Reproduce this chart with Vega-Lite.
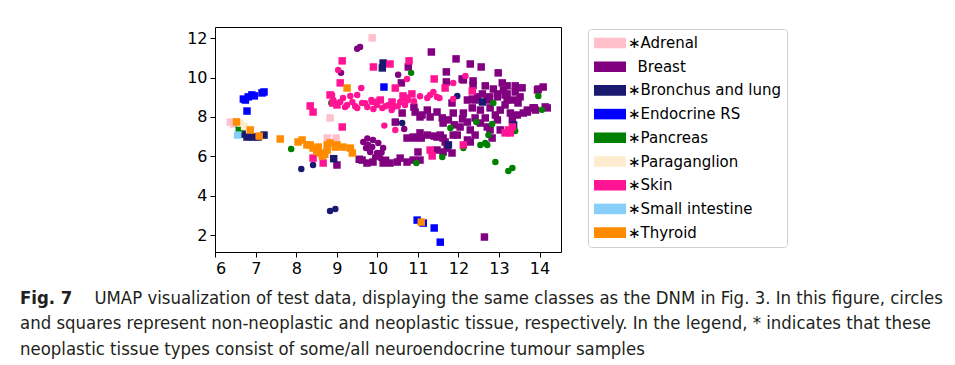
{
  "$schema": "https://vega.github.io/schema/vega-lite/v6.json",
  "autosize": "none",
  "width": 346,
  "height": 225,
  "padding": {"left": 215, "top": 27, "right": 394, "bottom": 113},
  "background": "#ffffff",
  "config": {
    "view": {"stroke": "#000000", "strokeWidth": 1},
    "axis": {"domain": false, "grid": false, "tickColor": "#000000", "tickSize": 5, "tickWidth": 1, "labelFont": "DejaVu Sans", "labelFontSize": 16, "labelColor": "#000000", "labelPadding": 3, "title": null}
  },
  "title": {
    "text": "Fig. 7",
    "subtitle": [
      "\u200b\u2003\u2003\u2003\u2003\u2002UMAP visualization of test data, displaying the same classes as the DNM in Fig. 3. In this figure, circles",
      "and squares represent non-neoplastic and neoplastic tissue, respectively. In the legend, * indicates that these",
      "neoplastic tissue types consist of some/all neuroendocrine tumour samples"
    ],
    "orient": "bottom",
    "anchor": "start",
    "frame": "group",
    "dx": -195,
    "offset": 13,
    "font": "DejaVu Sans Condensed",
    "fontSize": 18.4,
    "fontWeight": "bold",
    "color": "#231f20",
    "lineHeight": 25.5,
    "subtitleFont": "DejaVu Sans Condensed",
    "subtitleFontSize": 18.4,
    "subtitleFontWeight": "normal",
    "subtitleColor": "#231f20",
    "subtitleLineHeight": 25.5,
    "subtitlePadding": -18.9
  },
  "data": {"values": [
    {"cls": "Adrenal", "kind": "neoplastic", "x": 9.87, "y": 12.02},
    {"cls": "Adrenal", "kind": "neoplastic", "x": 6.37, "y": 7.74},
    {"cls": "Adrenal", "kind": "neoplastic", "x": 6.46, "y": 7.64},
    {"cls": "Adrenal", "kind": "neoplastic", "x": 8.83, "y": 7.95},
    {"cls": "Adrenal", "kind": "neoplastic", "x": 8.76, "y": 6.93},
    {"cls": "Adrenal", "kind": "neoplastic", "x": 8.98, "y": 6.93},

    {"cls": "Breast", "kind": "non-neoplastic", "x": 9.50, "y": 11.46},
    {"cls": "Breast", "kind": "non-neoplastic", "x": 9.57, "y": 11.56},
    {"cls": "Breast", "kind": "non-neoplastic", "x": 9.10, "y": 10.24},
    {"cls": "Breast", "kind": "non-neoplastic", "x": 10.51, "y": 10.14},
    {"cls": "Breast", "kind": "non-neoplastic", "x": 10.66, "y": 7.39},
    {"cls": "Breast", "kind": "non-neoplastic", "x": 9.65, "y": 6.73},
    {"cls": "Breast", "kind": "non-neoplastic", "x": 9.77, "y": 6.58},
    {"cls": "Breast", "kind": "non-neoplastic", "x": 9.89, "y": 6.83},
    {"cls": "Breast", "kind": "non-neoplastic", "x": 10.02, "y": 6.68},
    {"cls": "Breast", "kind": "non-neoplastic", "x": 10.14, "y": 6.42},
    {"cls": "Breast", "kind": "non-neoplastic", "x": 9.82, "y": 6.22},
    {"cls": "Breast", "kind": "non-neoplastic", "x": 9.99, "y": 6.17},
    {"cls": "Breast", "kind": "non-neoplastic", "x": 10.07, "y": 5.91},
    {"cls": "Breast", "kind": "non-neoplastic", "x": 9.72, "y": 6.42},
    {"cls": "Breast", "kind": "non-neoplastic", "x": 9.87, "y": 6.47},
    {"cls": "Breast", "kind": "non-neoplastic", "x": 9.94, "y": 5.97},
    {"cls": "Breast", "kind": "non-neoplastic", "x": 9.75, "y": 6.90},
    {"cls": "Breast", "kind": "non-neoplastic", "x": 10.10, "y": 6.20},

    {"cls": "Breast", "kind": "neoplastic", "x": 11.33, "y": 11.30},
    {"cls": "Breast", "kind": "neoplastic", "x": 11.94, "y": 10.95},
    {"cls": "Breast", "kind": "neoplastic", "x": 12.29, "y": 10.69},
    {"cls": "Breast", "kind": "neoplastic", "x": 12.56, "y": 10.54},
    {"cls": "Breast", "kind": "neoplastic", "x": 11.70, "y": 10.29},
    {"cls": "Breast", "kind": "neoplastic", "x": 10.76, "y": 10.54},
    {"cls": "Breast", "kind": "neoplastic", "x": 10.59, "y": 9.73},
    {"cls": "Breast", "kind": "neoplastic", "x": 11.70, "y": 9.78},
    {"cls": "Breast", "kind": "neoplastic", "x": 12.12, "y": 9.88},
    {"cls": "Breast", "kind": "neoplastic", "x": 12.36, "y": 9.83},
    {"cls": "Breast", "kind": "neoplastic", "x": 12.98, "y": 10.24},
    {"cls": "Breast", "kind": "neoplastic", "x": 12.36, "y": 9.60},
    {"cls": "Breast", "kind": "neoplastic", "x": 12.66, "y": 9.58},
    {"cls": "Breast", "kind": "neoplastic", "x": 12.86, "y": 9.42},
    {"cls": "Breast", "kind": "neoplastic", "x": 13.08, "y": 9.73},
    {"cls": "Breast", "kind": "neoplastic", "x": 13.20, "y": 9.58},
    {"cls": "Breast", "kind": "neoplastic", "x": 13.40, "y": 9.58},
    {"cls": "Breast", "kind": "neoplastic", "x": 13.57, "y": 9.48},
    {"cls": "Breast", "kind": "neoplastic", "x": 13.97, "y": 9.42},
    {"cls": "Breast", "kind": "neoplastic", "x": 14.09, "y": 9.52},
    {"cls": "Breast", "kind": "neoplastic", "x": 12.59, "y": 9.17},
    {"cls": "Breast", "kind": "neoplastic", "x": 12.76, "y": 9.02},
    {"cls": "Breast", "kind": "neoplastic", "x": 12.96, "y": 9.17},
    {"cls": "Breast", "kind": "neoplastic", "x": 13.20, "y": 9.17},
    {"cls": "Breast", "kind": "neoplastic", "x": 13.40, "y": 9.27},
    {"cls": "Breast", "kind": "neoplastic", "x": 12.34, "y": 8.91},
    {"cls": "Breast", "kind": "neoplastic", "x": 13.11, "y": 9.37},
    {"cls": "Breast", "kind": "neoplastic", "x": 13.20, "y": 8.86},
    {"cls": "Breast", "kind": "neoplastic", "x": 13.35, "y": 8.86},
    {"cls": "Breast", "kind": "neoplastic", "x": 13.47, "y": 8.71},
    {"cls": "Breast", "kind": "neoplastic", "x": 12.41, "y": 8.86},
    {"cls": "Breast", "kind": "neoplastic", "x": 12.34, "y": 8.46},
    {"cls": "Breast", "kind": "neoplastic", "x": 12.54, "y": 8.35},
    {"cls": "Breast", "kind": "neoplastic", "x": 12.78, "y": 8.46},
    {"cls": "Breast", "kind": "neoplastic", "x": 13.03, "y": 8.35},
    {"cls": "Breast", "kind": "neoplastic", "x": 13.28, "y": 8.20},
    {"cls": "Breast", "kind": "neoplastic", "x": 13.45, "y": 8.10},
    {"cls": "Breast", "kind": "neoplastic", "x": 13.60, "y": 8.20},
    {"cls": "Breast", "kind": "neoplastic", "x": 13.70, "y": 8.35},
    {"cls": "Breast", "kind": "neoplastic", "x": 13.84, "y": 8.46},
    {"cls": "Breast", "kind": "neoplastic", "x": 14.14, "y": 8.51},
    {"cls": "Breast", "kind": "neoplastic", "x": 13.90, "y": 8.35},
    {"cls": "Breast", "kind": "neoplastic", "x": 12.12, "y": 8.20},
    {"cls": "Breast", "kind": "neoplastic", "x": 11.87, "y": 8.20},
    {"cls": "Breast", "kind": "neoplastic", "x": 11.75, "y": 7.85},
    {"cls": "Breast", "kind": "neoplastic", "x": 11.60, "y": 7.95},
    {"cls": "Breast", "kind": "neoplastic", "x": 11.30, "y": 8.00},
    {"cls": "Breast", "kind": "neoplastic", "x": 11.10, "y": 8.10},
    {"cls": "Breast", "kind": "neoplastic", "x": 10.93, "y": 8.25},
    {"cls": "Breast", "kind": "neoplastic", "x": 11.23, "y": 8.35},
    {"cls": "Breast", "kind": "neoplastic", "x": 11.47, "y": 8.25},
    {"cls": "Breast", "kind": "neoplastic", "x": 11.84, "y": 8.71},
    {"cls": "Breast", "kind": "neoplastic", "x": 12.96, "y": 7.85},
    {"cls": "Breast", "kind": "neoplastic", "x": 13.03, "y": 7.34},
    {"cls": "Breast", "kind": "neoplastic", "x": 12.71, "y": 7.49},
    {"cls": "Breast", "kind": "neoplastic", "x": 12.29, "y": 7.34},
    {"cls": "Breast", "kind": "neoplastic", "x": 12.04, "y": 7.49},
    {"cls": "Breast", "kind": "neoplastic", "x": 11.62, "y": 7.69},
    {"cls": "Breast", "kind": "neoplastic", "x": 11.97, "y": 7.08},
    {"cls": "Breast", "kind": "neoplastic", "x": 12.22, "y": 6.83},
    {"cls": "Breast", "kind": "neoplastic", "x": 11.67, "y": 6.73},
    {"cls": "Breast", "kind": "neoplastic", "x": 11.47, "y": 6.98},
    {"cls": "Breast", "kind": "neoplastic", "x": 11.23, "y": 7.08},
    {"cls": "Breast", "kind": "neoplastic", "x": 11.05, "y": 7.19},
    {"cls": "Breast", "kind": "neoplastic", "x": 10.88, "y": 6.98},
    {"cls": "Breast", "kind": "neoplastic", "x": 10.73, "y": 6.93},
    {"cls": "Breast", "kind": "neoplastic", "x": 12.83, "y": 6.93},
    {"cls": "Breast", "kind": "neoplastic", "x": 10.44, "y": 7.74},
    {"cls": "Breast", "kind": "neoplastic", "x": 10.61, "y": 8.20},
    {"cls": "Breast", "kind": "neoplastic", "x": 11.05, "y": 8.00},
    {"cls": "Breast", "kind": "neoplastic", "x": 10.91, "y": 6.93},
    {"cls": "Breast", "kind": "neoplastic", "x": 11.08, "y": 6.93},
    {"cls": "Breast", "kind": "neoplastic", "x": 11.40, "y": 7.03},
    {"cls": "Breast", "kind": "neoplastic", "x": 11.55, "y": 7.08},
    {"cls": "Breast", "kind": "neoplastic", "x": 9.62, "y": 5.81},
    {"cls": "Breast", "kind": "neoplastic", "x": 9.74, "y": 5.66},
    {"cls": "Breast", "kind": "neoplastic", "x": 10.14, "y": 5.66},
    {"cls": "Breast", "kind": "neoplastic", "x": 10.31, "y": 5.66},
    {"cls": "Breast", "kind": "neoplastic", "x": 10.49, "y": 5.71},
    {"cls": "Breast", "kind": "neoplastic", "x": 10.56, "y": 5.91},
    {"cls": "Breast", "kind": "neoplastic", "x": 10.73, "y": 5.71},
    {"cls": "Breast", "kind": "neoplastic", "x": 10.88, "y": 5.81},
    {"cls": "Breast", "kind": "neoplastic", "x": 11.05, "y": 5.81},
    {"cls": "Breast", "kind": "neoplastic", "x": 11.00, "y": 6.22},
    {"cls": "Breast", "kind": "neoplastic", "x": 11.47, "y": 6.32},
    {"cls": "Breast", "kind": "neoplastic", "x": 11.72, "y": 6.42},
    {"cls": "Breast", "kind": "neoplastic", "x": 11.62, "y": 6.22},
    {"cls": "Breast", "kind": "neoplastic", "x": 11.84, "y": 6.17},
    {"cls": "Breast", "kind": "neoplastic", "x": 11.62, "y": 6.93},
    {"cls": "Breast", "kind": "neoplastic", "x": 11.87, "y": 7.08},
    {"cls": "Breast", "kind": "neoplastic", "x": 12.29, "y": 6.73},
    {"cls": "Breast", "kind": "neoplastic", "x": 9.00, "y": 5.56},
    {"cls": "Breast", "kind": "neoplastic", "x": 9.55, "y": 5.85},
    {"cls": "Breast", "kind": "neoplastic", "x": 9.89, "y": 5.71},
    {"cls": "Breast", "kind": "neoplastic", "x": 10.20, "y": 5.80},
    {"cls": "Breast", "kind": "neoplastic", "x": 13.95, "y": 9.37},
    {"cls": "Breast", "kind": "neoplastic", "x": 14.19, "y": 8.46},
    {"cls": "Breast", "kind": "neoplastic", "x": 13.87, "y": 8.46},
    {"cls": "Breast", "kind": "neoplastic", "x": 13.70, "y": 8.25},
    {"cls": "Breast", "kind": "neoplastic", "x": 12.64, "y": 1.90},
    {"cls": "Breast", "kind": "neoplastic", "x": 12.22, "y": 8.86},
    {"cls": "Breast", "kind": "neoplastic", "x": 12.47, "y": 9.02},
    {"cls": "Breast", "kind": "neoplastic", "x": 12.71, "y": 8.86},
    {"cls": "Breast", "kind": "neoplastic", "x": 12.96, "y": 9.02},
    {"cls": "Breast", "kind": "neoplastic", "x": 13.15, "y": 8.61},
    {"cls": "Breast", "kind": "neoplastic", "x": 12.91, "y": 8.10},
    {"cls": "Breast", "kind": "neoplastic", "x": 12.66, "y": 7.95},
    {"cls": "Breast", "kind": "neoplastic", "x": 12.41, "y": 7.95},
    {"cls": "Breast", "kind": "neoplastic", "x": 12.22, "y": 7.74},
    {"cls": "Breast", "kind": "neoplastic", "x": 13.33, "y": 7.85},
    {"cls": "Breast", "kind": "neoplastic", "x": 13.15, "y": 9.12},
    {"cls": "Breast", "kind": "neoplastic", "x": 13.52, "y": 9.02},
    {"cls": "Breast", "kind": "neoplastic", "x": 12.54, "y": 7.69},
    {"cls": "Breast", "kind": "neoplastic", "x": 12.78, "y": 7.34},
    {"cls": "Breast", "kind": "neoplastic", "x": 12.41, "y": 7.08},
    {"cls": "Breast", "kind": "neoplastic", "x": 12.09, "y": 9.93},
    {"cls": "Breast", "kind": "neoplastic", "x": 10.90, "y": 8.50},
    {"cls": "Breast", "kind": "neoplastic", "x": 11.90, "y": 7.60},
    {"cls": "Breast", "kind": "neoplastic", "x": 12.10, "y": 7.90},

    {"cls": "Bronchus and lung", "kind": "neoplastic", "x": 6.66, "y": 7.13},
    {"cls": "Bronchus and lung", "kind": "neoplastic", "x": 6.78, "y": 6.98},
    {"cls": "Bronchus and lung", "kind": "neoplastic", "x": 6.93, "y": 6.98},
    {"cls": "Bronchus and lung", "kind": "neoplastic", "x": 7.05, "y": 6.98},
    {"cls": "Bronchus and lung", "kind": "neoplastic", "x": 7.20, "y": 7.08},
    {"cls": "Bronchus and lung", "kind": "neoplastic", "x": 10.12, "y": 10.49},
    {"cls": "Bronchus and lung", "kind": "neoplastic", "x": 10.14, "y": 10.74},
    {"cls": "Bronchus and lung", "kind": "neoplastic", "x": 8.92, "y": 5.88},
    {"cls": "Bronchus and lung", "kind": "neoplastic", "x": 12.59, "y": 8.76},
    {"cls": "Bronchus and lung", "kind": "neoplastic", "x": 11.75, "y": 6.58},
    {"cls": "Bronchus and lung", "kind": "neoplastic", "x": 13.36, "y": 7.59},
    {"cls": "Bronchus and lung", "kind": "non-neoplastic", "x": 10.61, "y": 7.69},
    {"cls": "Bronchus and lung", "kind": "non-neoplastic", "x": 11.97, "y": 9.07},
    {"cls": "Bronchus and lung", "kind": "non-neoplastic", "x": 8.12, "y": 5.36},
    {"cls": "Bronchus and lung", "kind": "non-neoplastic", "x": 8.41, "y": 5.56},
    {"cls": "Bronchus and lung", "kind": "non-neoplastic", "x": 8.83, "y": 3.22},
    {"cls": "Bronchus and lung", "kind": "non-neoplastic", "x": 8.96, "y": 3.32},

    {"cls": "Endocrine RS", "kind": "neoplastic", "x": 6.69, "y": 8.91},
    {"cls": "Endocrine RS", "kind": "neoplastic", "x": 6.74, "y": 8.86},
    {"cls": "Endocrine RS", "kind": "neoplastic", "x": 6.81, "y": 9.02},
    {"cls": "Endocrine RS", "kind": "neoplastic", "x": 6.90, "y": 9.12},
    {"cls": "Endocrine RS", "kind": "neoplastic", "x": 6.96, "y": 9.07},
    {"cls": "Endocrine RS", "kind": "neoplastic", "x": 7.20, "y": 9.27},
    {"cls": "Endocrine RS", "kind": "neoplastic", "x": 7.15, "y": 9.22},
    {"cls": "Endocrine RS", "kind": "neoplastic", "x": 6.78, "y": 8.30},
    {"cls": "Endocrine RS", "kind": "neoplastic", "x": 10.16, "y": 9.52},
    {"cls": "Endocrine RS", "kind": "neoplastic", "x": 10.98, "y": 2.76},
    {"cls": "Endocrine RS", "kind": "neoplastic", "x": 11.13, "y": 2.61},
    {"cls": "Endocrine RS", "kind": "neoplastic", "x": 11.40, "y": 2.36},
    {"cls": "Endocrine RS", "kind": "neoplastic", "x": 11.55, "y": 1.64},

    {"cls": "Pancreas", "kind": "neoplastic", "x": 6.59, "y": 7.39},
    {"cls": "Pancreas", "kind": "non-neoplastic", "x": 7.87, "y": 6.37},
    {"cls": "Pancreas", "kind": "non-neoplastic", "x": 8.86, "y": 8.71},
    {"cls": "Pancreas", "kind": "non-neoplastic", "x": 10.83, "y": 10.24},
    {"cls": "Pancreas", "kind": "non-neoplastic", "x": 13.97, "y": 9.07},
    {"cls": "Pancreas", "kind": "non-neoplastic", "x": 14.06, "y": 8.36},
    {"cls": "Pancreas", "kind": "non-neoplastic", "x": 12.86, "y": 8.71},
    {"cls": "Pancreas", "kind": "non-neoplastic", "x": 12.44, "y": 7.74},
    {"cls": "Pancreas", "kind": "non-neoplastic", "x": 12.83, "y": 7.64},
    {"cls": "Pancreas", "kind": "non-neoplastic", "x": 11.80, "y": 7.44},
    {"cls": "Pancreas", "kind": "non-neoplastic", "x": 12.74, "y": 7.08},
    {"cls": "Pancreas", "kind": "non-neoplastic", "x": 12.54, "y": 6.58},
    {"cls": "Pancreas", "kind": "non-neoplastic", "x": 12.66, "y": 6.68},
    {"cls": "Pancreas", "kind": "non-neoplastic", "x": 12.71, "y": 6.58},
    {"cls": "Pancreas", "kind": "non-neoplastic", "x": 12.12, "y": 6.42},
    {"cls": "Pancreas", "kind": "non-neoplastic", "x": 11.60, "y": 5.97},
    {"cls": "Pancreas", "kind": "non-neoplastic", "x": 12.91, "y": 5.71},
    {"cls": "Pancreas", "kind": "non-neoplastic", "x": 13.23, "y": 5.25},
    {"cls": "Pancreas", "kind": "non-neoplastic", "x": 13.33, "y": 5.41},
    {"cls": "Pancreas", "kind": "non-neoplastic", "x": 10.96, "y": 5.66},
    {"cls": "Pancreas", "kind": "non-neoplastic", "x": 13.40, "y": 7.29},

    {"cls": "Paraganglion", "kind": "neoplastic", "x": 6.61, "y": 7.69},
    {"cls": "Paraganglion", "kind": "neoplastic", "x": 6.72, "y": 7.52},

    {"cls": "Skin", "kind": "neoplastic", "x": 8.34, "y": 8.56},
    {"cls": "Skin", "kind": "neoplastic", "x": 8.41, "y": 8.25},
    {"cls": "Skin", "kind": "neoplastic", "x": 9.13, "y": 10.85},
    {"cls": "Skin", "kind": "neoplastic", "x": 9.08, "y": 9.73},
    {"cls": "Skin", "kind": "neoplastic", "x": 8.83, "y": 9.12},
    {"cls": "Skin", "kind": "neoplastic", "x": 9.90, "y": 10.54},
    {"cls": "Skin", "kind": "neoplastic", "x": 10.31, "y": 10.69},
    {"cls": "Skin", "kind": "neoplastic", "x": 10.78, "y": 10.85},
    {"cls": "Skin", "kind": "neoplastic", "x": 10.44, "y": 9.47},
    {"cls": "Skin", "kind": "neoplastic", "x": 11.40, "y": 9.93},
    {"cls": "Skin", "kind": "neoplastic", "x": 9.13, "y": 7.49},
    {"cls": "Skin", "kind": "neoplastic", "x": 10.85, "y": 9.17},
    {"cls": "Skin", "kind": "neoplastic", "x": 10.63, "y": 9.07},
    {"cls": "Skin", "kind": "neoplastic", "x": 12.34, "y": 9.32},
    {"cls": "Skin", "kind": "neoplastic", "x": 8.41, "y": 5.91},
    {"cls": "Skin", "kind": "neoplastic", "x": 8.66, "y": 5.66},
    {"cls": "Skin", "kind": "neoplastic", "x": 11.30, "y": 6.32},
    {"cls": "Skin", "kind": "neoplastic", "x": 11.35, "y": 6.02},
    {"cls": "Skin", "kind": "neoplastic", "x": 13.23, "y": 7.34},
    {"cls": "Skin", "kind": "neoplastic", "x": 13.33, "y": 7.49},
    {"cls": "Skin", "kind": "neoplastic", "x": 13.15, "y": 7.19},
    {"cls": "Skin", "kind": "neoplastic", "x": 13.28, "y": 7.19},
    {"cls": "Skin", "kind": "neoplastic", "x": 12.12, "y": 6.58},
    {"cls": "Skin", "kind": "neoplastic", "x": 8.90, "y": 8.71},
    {"cls": "Skin", "kind": "neoplastic", "x": 9.00, "y": 8.61},
    {"cls": "Skin", "kind": "neoplastic", "x": 10.07, "y": 8.86},
    {"cls": "Skin", "kind": "neoplastic", "x": 10.36, "y": 8.76},
    {"cls": "Skin", "kind": "neoplastic", "x": 10.69, "y": 8.96},
    {"cls": "Skin", "kind": "neoplastic", "x": 11.67, "y": 9.47},
    {"cls": "Skin", "kind": "non-neoplastic", "x": 9.03, "y": 10.39},
    {"cls": "Skin", "kind": "non-neoplastic", "x": 9.60, "y": 9.47},
    {"cls": "Skin", "kind": "non-neoplastic", "x": 10.73, "y": 9.93},
    {"cls": "Skin", "kind": "non-neoplastic", "x": 12.17, "y": 10.08},
    {"cls": "Skin", "kind": "non-neoplastic", "x": 11.87, "y": 9.73},
    {"cls": "Skin", "kind": "non-neoplastic", "x": 11.38, "y": 9.27},
    {"cls": "Skin", "kind": "non-neoplastic", "x": 11.30, "y": 9.12},
    {"cls": "Skin", "kind": "non-neoplastic", "x": 11.53, "y": 8.96},
    {"cls": "Skin", "kind": "non-neoplastic", "x": 11.87, "y": 8.91},
    {"cls": "Skin", "kind": "non-neoplastic", "x": 10.17, "y": 7.56},
    {"cls": "Skin", "kind": "non-neoplastic", "x": 10.44, "y": 7.34},
    {"cls": "Skin", "kind": "non-neoplastic", "x": 8.91, "y": 8.86},
    {"cls": "Skin", "kind": "non-neoplastic", "x": 9.08, "y": 8.76},
    {"cls": "Skin", "kind": "non-neoplastic", "x": 9.25, "y": 8.61},
    {"cls": "Skin", "kind": "non-neoplastic", "x": 9.38, "y": 8.76},
    {"cls": "Skin", "kind": "non-neoplastic", "x": 9.50, "y": 8.46},
    {"cls": "Skin", "kind": "non-neoplastic", "x": 9.62, "y": 8.71},
    {"cls": "Skin", "kind": "non-neoplastic", "x": 9.75, "y": 8.51},
    {"cls": "Skin", "kind": "non-neoplastic", "x": 9.87, "y": 8.76},
    {"cls": "Skin", "kind": "non-neoplastic", "x": 9.99, "y": 8.61},
    {"cls": "Skin", "kind": "non-neoplastic", "x": 10.12, "y": 8.46},
    {"cls": "Skin", "kind": "non-neoplastic", "x": 10.27, "y": 8.61},
    {"cls": "Skin", "kind": "non-neoplastic", "x": 10.39, "y": 8.51},
    {"cls": "Skin", "kind": "non-neoplastic", "x": 10.56, "y": 8.76},
    {"cls": "Skin", "kind": "non-neoplastic", "x": 10.68, "y": 8.61},
    {"cls": "Skin", "kind": "non-neoplastic", "x": 10.76, "y": 8.86},
    {"cls": "Skin", "kind": "non-neoplastic", "x": 11.23, "y": 8.96},
    {"cls": "Skin", "kind": "non-neoplastic", "x": 11.47, "y": 9.02},
    {"cls": "Skin", "kind": "non-neoplastic", "x": 8.88, "y": 9.12},
    {"cls": "Skin", "kind": "non-neoplastic", "x": 9.15, "y": 8.96},
    {"cls": "Skin", "kind": "non-neoplastic", "x": 9.33, "y": 9.07},
    {"cls": "Skin", "kind": "non-neoplastic", "x": 9.50, "y": 9.12},
    {"cls": "Skin", "kind": "non-neoplastic", "x": 9.85, "y": 8.86},
    {"cls": "Skin", "kind": "non-neoplastic", "x": 9.20, "y": 8.50},
    {"cls": "Skin", "kind": "non-neoplastic", "x": 9.45, "y": 8.55},
    {"cls": "Skin", "kind": "non-neoplastic", "x": 9.70, "y": 8.70},
    {"cls": "Skin", "kind": "non-neoplastic", "x": 10.00, "y": 8.80},
    {"cls": "Skin", "kind": "non-neoplastic", "x": 10.20, "y": 8.55},
    {"cls": "Skin", "kind": "non-neoplastic", "x": 10.50, "y": 8.55},
    {"cls": "Skin", "kind": "non-neoplastic", "x": 10.90, "y": 8.80},
    {"cls": "Skin", "kind": "non-neoplastic", "x": 11.05, "y": 9.05},
    {"cls": "Skin", "kind": "non-neoplastic", "x": 10.35, "y": 8.35},
    {"cls": "Skin", "kind": "non-neoplastic", "x": 9.90, "y": 8.40},

    {"cls": "Small intestine", "kind": "neoplastic", "x": 6.55, "y": 7.08},

    {"cls": "Thyroid", "kind": "neoplastic", "x": 6.52, "y": 7.75},
    {"cls": "Thyroid", "kind": "neoplastic", "x": 6.86, "y": 7.34},
    {"cls": "Thyroid", "kind": "neoplastic", "x": 7.08, "y": 7.03},
    {"cls": "Thyroid", "kind": "neoplastic", "x": 7.60, "y": 6.88},
    {"cls": "Thyroid", "kind": "neoplastic", "x": 8.04, "y": 6.73},
    {"cls": "Thyroid", "kind": "neoplastic", "x": 8.14, "y": 6.83},
    {"cls": "Thyroid", "kind": "neoplastic", "x": 8.26, "y": 6.58},
    {"cls": "Thyroid", "kind": "neoplastic", "x": 8.34, "y": 6.58},
    {"cls": "Thyroid", "kind": "neoplastic", "x": 8.41, "y": 6.42},
    {"cls": "Thyroid", "kind": "neoplastic", "x": 8.54, "y": 6.47},
    {"cls": "Thyroid", "kind": "neoplastic", "x": 8.59, "y": 6.17},
    {"cls": "Thyroid", "kind": "neoplastic", "x": 8.64, "y": 6.02},
    {"cls": "Thyroid", "kind": "neoplastic", "x": 8.76, "y": 6.58},
    {"cls": "Thyroid", "kind": "neoplastic", "x": 8.76, "y": 6.32},
    {"cls": "Thyroid", "kind": "neoplastic", "x": 8.96, "y": 6.47},
    {"cls": "Thyroid", "kind": "neoplastic", "x": 9.15, "y": 6.47},
    {"cls": "Thyroid", "kind": "neoplastic", "x": 9.33, "y": 6.42},
    {"cls": "Thyroid", "kind": "neoplastic", "x": 8.83, "y": 6.68},
    {"cls": "Thyroid", "kind": "neoplastic", "x": 9.00, "y": 6.58},
    {"cls": "Thyroid", "kind": "neoplastic", "x": 9.38, "y": 6.17},
    {"cls": "Thyroid", "kind": "neoplastic", "x": 8.50, "y": 6.25},
    {"cls": "Thyroid", "kind": "neoplastic", "x": 8.70, "y": 6.10},
    {"cls": "Thyroid", "kind": "neoplastic", "x": 9.25, "y": 9.47},
    {"cls": "Thyroid", "kind": "neoplastic", "x": 11.08, "y": 2.66}
  ]},
  "mark": {"type": "point", "filled": true, "opacity": 1, "strokeWidth": 0},
  "encoding": {
    "x": {"field": "x", "type": "quantitative", "scale": {"domain": [5.99, 14.53], "nice": false, "zero": false}, "axis": {"values": [6, 7, 8, 9, 10, 11, 12, 13, 14]}},
    "y": {"field": "y", "type": "quantitative", "scale": {"domain": [1.14, 12.57], "nice": false, "zero": false}, "axis": {"values": [2, 4, 6, 8, 10, 12]}},
    "color": {
      "field": "cls", "type": "nominal",
      "scale": {
        "domain": ["Adrenal", "Breast", "Bronchus and lung", "Endocrine RS", "Pancreas", "Paraganglion", "Skin", "Small intestine", "Thyroid"],
        "range": ["#ffc0cb", "#800080", "#191970", "#0000ff", "#008000", "#ffebcd", "#ff1493", "#87cefa", "#ff8c00"]
      },
      "legend": {
        "title": null,
        "orient": "none",
        "legendX": 373,
        "legendY": 2,
        "symbolType": "M-1,-0.33H1V0.33H-1Z",
        "symbolSize": 1024,
        "symbolStrokeWidth": 0,
        "symbolOpacity": 1,
        "clipHeight": 16,
        "labelFont": "DejaVu Sans",
        "labelFontSize": 15,
        "labelColor": "#000000",
        "labelOffset": 2,
        "rowPadding": 7.7,
        "padding": 6,
        "strokeColor": "#d0d0d0",
        "cornerRadius": 3,
        "fillColor": "#ffffff",
        "labelExpr": "datum.label == 'Breast' ? '\u200b\u2007Breast' : '\u2217' + datum.label"
      }
    },
    "shape": {"field": "kind", "type": "nominal", "scale": {"domain": ["non-neoplastic", "neoplastic"], "range": ["circle", "square"]}, "legend": null},
    "size": {"field": "kind", "type": "nominal", "scale": {"domain": ["non-neoplastic", "neoplastic"], "range": [42, 56]}, "legend": null}
  }
}
